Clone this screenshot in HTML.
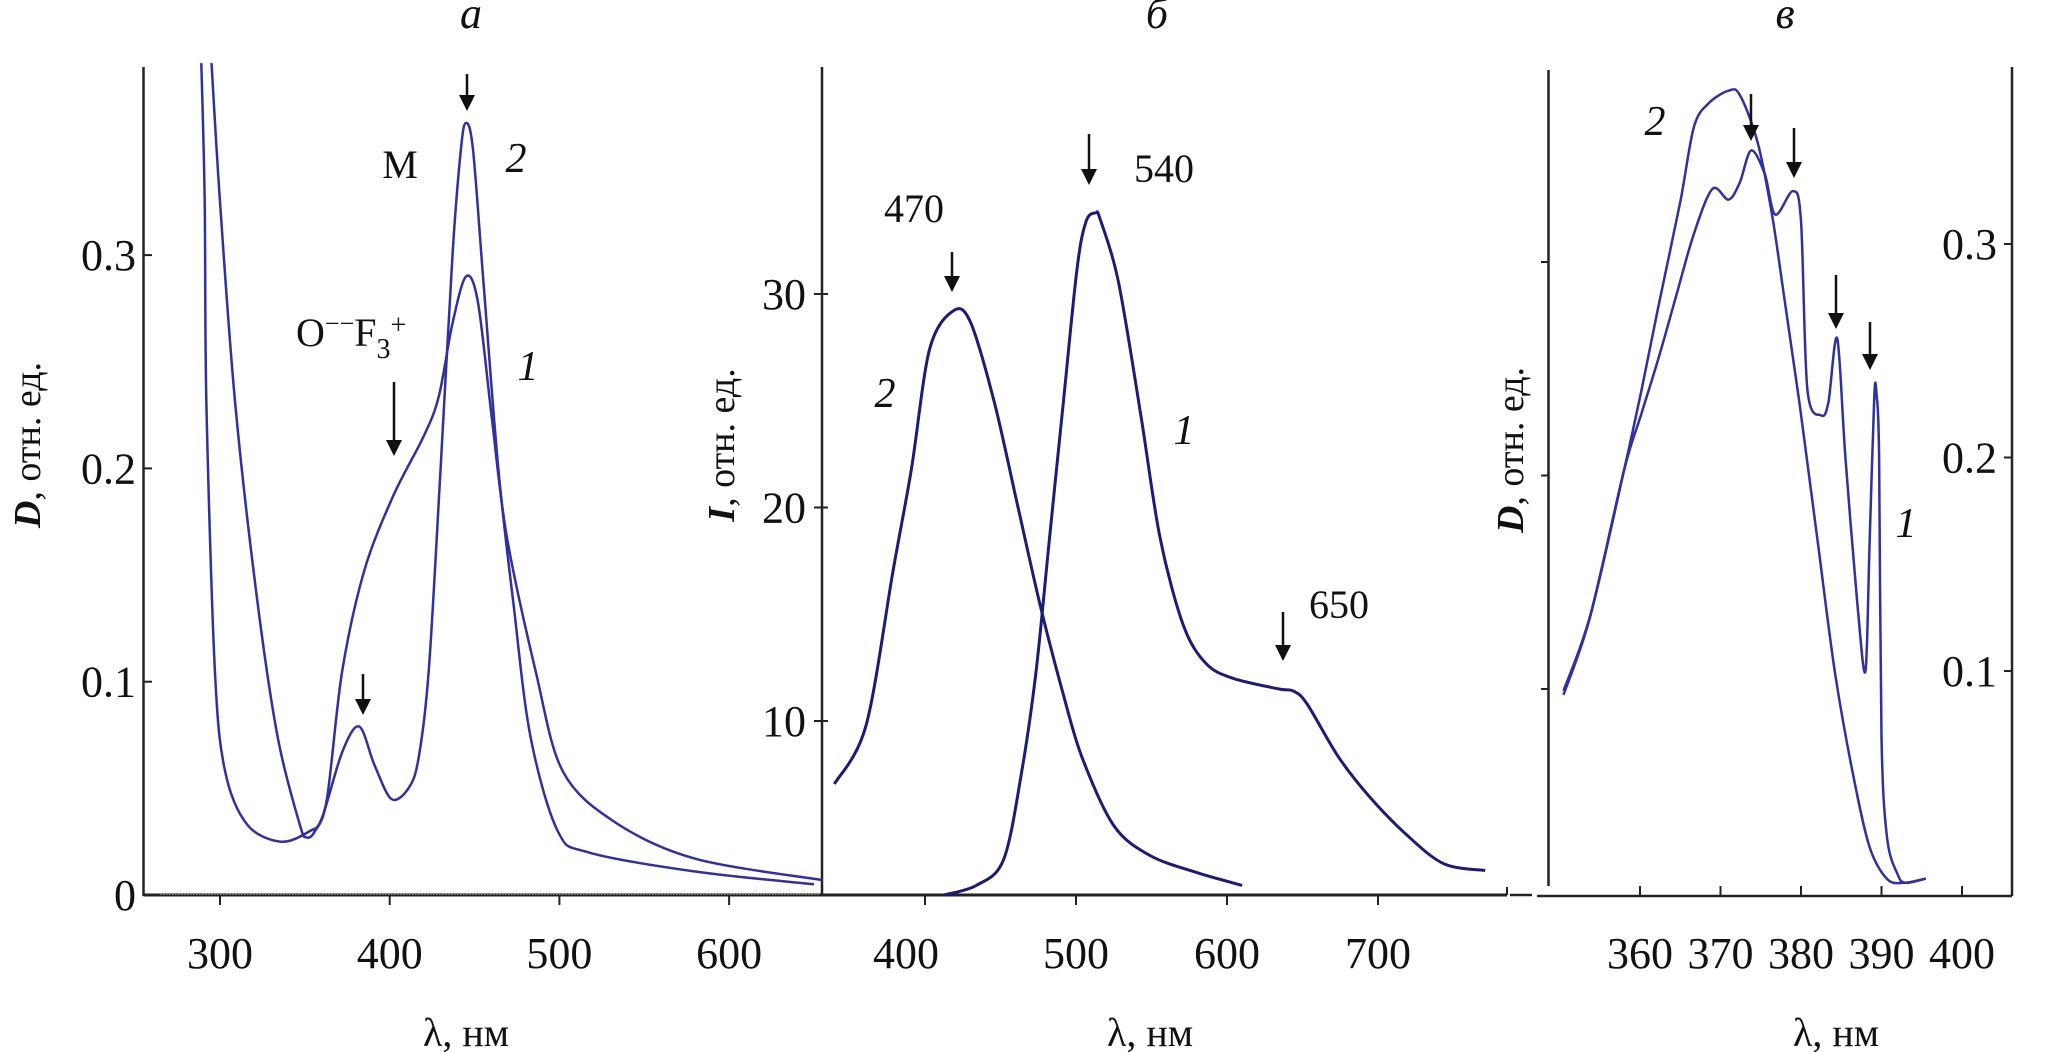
<!DOCTYPE html>
<html><head><meta charset="utf-8"><style>
html,body{margin:0;padding:0;background:#fff;}
svg{display:block;}
text{font-family:"Liberation Serif",serif;fill:#111;}
</style></head><body>
<svg id="fig" width="2067" height="1052" viewBox="0 0 2067 1052" xmlns="http://www.w3.org/2000/svg">
<g id="axes"></g>
<g id="series"></g>
<g id="annot"></g>
</svg>
<script>
// ---- Panel a data (absorption D vs wavelength) ----
const aTicksX = [300, 400, 500, 600];
const aTicksY = [0, 0.1, 0.2, 0.3];
const aTickLabelsY = ["0", "0.1", "0.2", "0.3"];
const aCurve1X = [295, 300, 309, 322, 334, 347, 351, 356, 363, 372, 385, 402, 420, 429, 437, 445, 452, 460, 469, 486, 502, 533, 580, 655];
const aCurve1Y = [0.39, 0.325, 0.23, 0.138, 0.074, 0.033, 0.027, 0.03, 0.045, 0.105, 0.152, 0.187, 0.215, 0.234, 0.268, 0.29, 0.278, 0.225, 0.168, 0.105, 0.058, 0.034, 0.017, 0.007];
const aCurve2X = [289, 291, 292, 297, 303, 316, 336, 353, 360, 372, 382, 391, 401, 411, 417, 423, 430, 437, 442, 445, 449, 455, 464, 473, 483, 499, 517, 580, 650];
const aCurve2Y = [0.39, 0.325, 0.23, 0.105, 0.058, 0.033, 0.025, 0.03, 0.036, 0.067, 0.079, 0.061, 0.045, 0.05, 0.064, 0.105, 0.2, 0.3, 0.35, 0.362, 0.35, 0.29, 0.2, 0.136, 0.074, 0.03, 0.02, 0.011, 0.005];

// ---- Panel b data (luminescence I vs wavelength) ----
const bTicksX = [400, 500, 600, 700];
const bTicksY = [10, 20, 30];
const bCurve1X = [412.6, 434, 452, 464, 473.5, 482.5, 491.6, 500.7, 506.7, 513, 516, 528, 543, 555.6, 571, 586, 604, 634.5, 644, 653, 674, 695, 720, 744, 771];
const bCurve1Y = [1.85, 2.3, 3.5, 7.6, 12.3, 18.6, 24.9, 31.2, 33.4, 33.8, 33.5, 30.6, 24.3, 18.6, 14.5, 12.7, 12.0, 11.5, 11.4, 10.8, 8.3, 6.4, 4.6, 3.3, 3.0];
const bCurve2X = [340, 361, 379, 391, 403, 418.5, 430, 446, 461, 476, 491, 504, 525, 549, 580, 610];
const bCurve2Y = [7.05, 9.8, 17.1, 21.8, 27.4, 29.2, 28.7, 24.9, 20.2, 15.5, 11.4, 8.3, 5.1, 3.7, 2.9, 2.3];

// ---- Panel c data (absorption D vs wavelength, narrow range) ----
const cTicksX = [360, 370, 380, 390, 400];
const cTicksY = [0.1, 0.2, 0.3];
const cTickLabelsY = ["0.1", "0.2", "0.3"];
const cCurve1X = [350.5, 353.8, 358, 360.2, 362.4, 364.5, 366.7, 369, 371, 372.4, 373.8, 375.5, 376.8, 379, 380, 380.8, 382.5, 383.4, 384.5, 385.5, 387, 388, 388.5, 389.1, 389.4, 389.7, 390, 390.7, 392, 393, 395.5];
const cCurve1Y = [0.095, 0.13, 0.198, 0.225, 0.252, 0.28, 0.309, 0.33, 0.325, 0.333, 0.348, 0.337, 0.318, 0.329, 0.315, 0.236, 0.224, 0.23, 0.26, 0.205, 0.136, 0.104, 0.161, 0.233, 0.233, 0.205, 0.073, 0.026, 0.009, 0.005, 0.007];
const cCurve2X = [350.5, 353.8, 358, 360.2, 362.4, 365, 366.7, 368.5, 371, 372.4, 374.6, 376.4, 378, 379.8, 382, 384.2, 386.4, 388.5, 390.7, 392.8, 395.5];
const cCurve2Y = [0.093, 0.1295, 0.198, 0.236, 0.277, 0.324, 0.359, 0.370, 0.376, 0.374, 0.352, 0.318, 0.277, 0.23, 0.167, 0.104, 0.057, 0.022, 0.0068, 0.005, 0.007];

const NS = "http://www.w3.org/2000/svg";
const axesG = document.getElementById('axes');
const seriesG = document.getElementById('series');
const annG = document.getElementById('annot');

// axis functions
const axA = { x: v => 220 + (v - 300) * 1.697, y: v => 895 - v * 2133 };
const axB = { x: v => 1076 + (v - 500) * 1.51, y: v => 721 - (v - 10) * 21.35 };
const axC = { x: v => 1640 + (v - 360) * 8.05, y: v => 680 - (v - 0.1) * 2135 };

function mk(tag, attrs, parent) {
  const e = document.createElementNS(NS, tag);
  for (const k in attrs) e.setAttribute(k, attrs[k]);
  parent.appendChild(e);
  return e;
}
function line(x1, y1, x2, y2, w, parent) {
  return mk('line', {x1: x1, y1: y1, x2: x2, y2: y2, stroke: '#222', 'stroke-width': w}, parent);
}
function txt(x, y, s, size, parent, extra) {
  const t = mk('text', Object.assign({x: x, y: y, 'font-size': size, 'text-anchor': 'middle'}, extra || {}), parent);
  t.textContent = s;
  return t;
}
function curve(ax, xs, ys, color, w, name) {
  const pts = xs.map((x, i) => [ax.x(x), Math.max(60, ax.y(ys[i]))]);
  let d = 'M' + pts[0][0].toFixed(1) + ',' + pts[0][1].toFixed(1);
  const k = 0.16;
  for (let i = 0; i < pts.length - 1; i++) {
    const p0 = pts[Math.max(0, i - 1)], p1 = pts[i], p2 = pts[i + 1], p3 = pts[Math.min(pts.length - 1, i + 2)];
    const c1 = [p1[0] + (p2[0] - p0[0]) * k, p1[1] + (p2[1] - p0[1]) * k];
    const c2 = [p2[0] - (p3[0] - p1[0]) * k, p2[1] - (p3[1] - p1[1]) * k];
    d += 'C' + c1[0].toFixed(1) + ',' + c1[1].toFixed(1) + ' ' + c2[0].toFixed(1) + ',' + c2[1].toFixed(1) + ' ' + p2[0].toFixed(1) + ',' + p2[1].toFixed(1);
  }
  const p = mk('path', {d: d, fill: 'none', stroke: color, 'stroke-width': w, 'stroke-linejoin': 'round'}, seriesG);
  
  
  return p;
}
function arrow(x, y1, y2, name) {
  const g = mk('g', {}, annG);
  
  
  mk('line', {x1: x, y1: y1, x2: x, y2: y2 - 12, stroke: '#111', 'stroke-width': 2.5}, g);
  mk('polygon', {points: (x - 8) + ',' + (y2 - 16) + ' ' + (x + 8) + ',' + (y2 - 16) + ' ' + x + ',' + y2, fill: '#111'}, g);
}

// ===== Panel a axes =====
line(143.5, 67, 143.5, 896, 2.5, axesG);
line(143.5, 895, 822, 895, 3, axesG);
mk('line', {x1: 160, y1: 894, x2: 820, y2: 894, stroke: '#888', 'stroke-width': 2, 'stroke-dasharray': '1.5 1.5'}, axesG);
aTicksX.forEach(v => {
  line(axA.x(v), 895, axA.x(v), 905, 2, axesG);
  const t = txt(axA.x(v), 968, String(v), 44, axesG);
  
  
});
aTicksY.forEach((v, i) => {
  line(143.5, axA.y(v), 152, axA.y(v), 2, axesG);
  const t = txt(136, axA.y(v) + 15, aTickLabelsY[i], 44, axesG, {'text-anchor': 'end'});
  
  
});
let t;
t = txt(466, 1046, 'λ, нм', 40, axesG);


t = mk('text', {x: 0, y: 0, 'font-size': 38, 'text-anchor': 'middle', transform: 'translate(40,445) rotate(-90)'}, axesG);
t.innerHTML = '<tspan font-style="italic" font-weight="bold">D</tspan>, отн. ед.';


t = txt(471, 28, 'а', 44, axesG, {'font-style': 'italic'});



// ===== Panel b axes =====
line(822, 67, 822, 896, 2.5, axesG);
line(822, 895, 1507, 895, 3, axesG);
line(1507, 887, 1507, 895, 2, axesG);
line(1510, 895, 1532, 895, 2.5, axesG);
bTicksX.forEach(v => {
  line(axB.x(v), 895, axB.x(v), 905, 2, axesG);
  const tt = txt(axB.x(v) - (v === 400 ? 19 : 0), 968, String(v), 44, axesG);
  
  
});
bTicksY.forEach(v => {
  line(814, axB.y(v), 822, axB.y(v), 2, axesG);
  line(822, axB.y(v), 828, axB.y(v), 2, axesG);
  const tt = txt(806, axB.y(v) + 15, String(v), 44, axesG, {'text-anchor': 'end'});
  
  
});
t = txt(1150, 1046, 'λ, нм', 40, axesG);


t = mk('text', {x: 0, y: 0, 'font-size': 38, 'text-anchor': 'middle', transform: 'translate(734,445) rotate(-90)'}, axesG);
t.innerHTML = '<tspan font-style="italic" font-weight="bold">I</tspan>, отн. ед.';


t = txt(1157, 28, 'б', 44, axesG, {'font-style': 'italic'});



// ===== Panel c axes =====
line(1548.5, 70, 1548.5, 886, 2.5, axesG);
line(2012, 67, 2012, 896, 2.5, axesG);
line(1537, 896, 2012, 896, 2.5, axesG);
cTicksX.forEach(v => {
  line(axC.x(v), 886, axC.x(v), 896, 2, axesG);
  const tt = txt(axC.x(v), 968, String(v), 44, axesG);
  
  
});
cTicksY.forEach((v, i) => {
  line(2004, axC.y(v) - 9, 2012, axC.y(v) - 9, 2, axesG);
  line(1541, axC.y(v) + 9, 1548.5, axC.y(v) + 9, 2, axesG);
  const tt = txt(1997, axC.y(v) + 6, cTickLabelsY[i], 44, axesG, {'text-anchor': 'end'});
  
  
});
t = txt(1836, 1046, 'λ, нм', 40, axesG);


t = mk('text', {x: 0, y: 0, 'font-size': 38, 'text-anchor': 'middle', transform: 'translate(1523,450) rotate(-90)'}, axesG);
t.innerHTML = '<tspan font-style="italic" font-weight="bold">D</tspan>, отн. ед.';


t = txt(1785, 28, 'в', 44, axesG, {'font-style': 'italic'});



// ===== Series =====
curve(axA, aCurve1X, aCurve1Y, '#3030a0', 2.5, 'panel-a-curve-1');
curve(axA, aCurve2X, aCurve2Y, '#3030a0', 2.5, 'panel-a-curve-2');
curve(axB, bCurve1X, bCurve1Y, '#1c1c78', 3, 'panel-b-curve-1');
curve(axB, bCurve2X, bCurve2Y, '#1c1c78', 3, 'panel-b-curve-2');
curve(axC, cCurve1X, cCurve1Y, '#3030a0', 2.5, 'panel-c-curve-1');
curve(axC, cCurve2X, cCurve2Y, '#3030a0', 2.5, 'panel-c-curve-2');

// ===== Annotations =====
arrow(467, 74, 111, 'arrow-a-peak');
arrow(363, 674, 715, 'arrow-a-380');
arrow(394, 382, 456, 'arrow-a-of3');
arrow(952, 252, 292, 'arrow-b-470');
arrow(1089, 134, 185, 'arrow-b-540');
arrow(1283, 612, 661, 'arrow-b-650');
arrow(1751, 94, 141, 'arrow-c-1');
arrow(1794, 128, 178, 'arrow-c-2');
arrow(1836, 275, 329, 'arrow-c-3');
arrow(1870, 322, 370, 'arrow-c-4');

function lab(x, y, s, size, name, italic) {
  const e = txt(x, y, s, size, annG, italic ? {'font-style': 'italic'} : {});
  
  
  return e;
}
lab(400, 178, 'M', 40, 'label-m', false).setAttribute('font-family', '"Liberation Sans", sans-serif');
lab(516, 172, '2', 42, 'label-a-curve-2', true);
lab(528, 380, '1', 42, 'label-a-curve-1', true);
t = mk('text', {x: 296, y: 346, 'font-size': 40}, annG);
t.innerHTML = 'O<tspan dy="-14" font-size="26">−−</tspan><tspan dy="14">F</tspan><tspan dy="12" font-size="28">3</tspan><tspan dy="-24" font-size="28">+</tspan>';


lab(914, 222, '470', 40, 'label-470', false);
lab(1164, 182, '540', 40, 'label-540', false);
lab(1339, 618, '650', 40, 'label-650', false);
lab(885, 407, '2', 42, 'label-b-curve-2', true);
lab(1184, 444, '1', 42, 'label-b-curve-1', true);
lab(1655, 135, '2', 42, 'label-c-curve-2', true);
lab(1906, 537, '1', 42, 'label-c-curve-1', true);
</script>
</body></html>
